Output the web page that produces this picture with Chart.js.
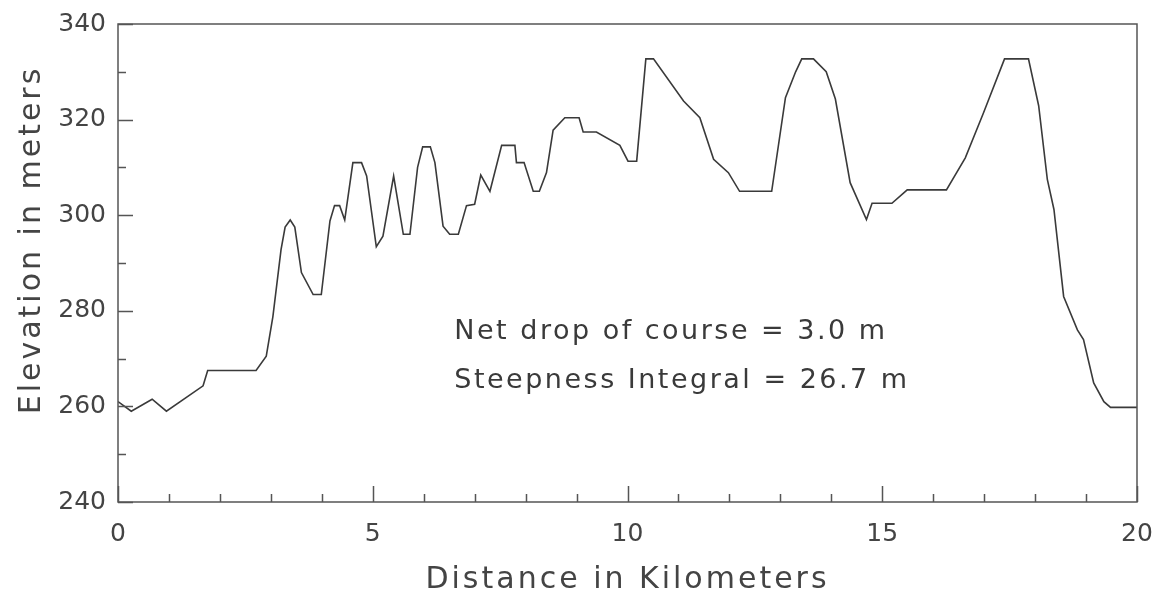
<!DOCTYPE html>
<html>
<head>
<meta charset="utf-8">
<script src="https://cdn.jsdelivr.net/npm/chart.js@4"></script>
<style>
  html, body { margin: 0; padding: 0; background: #fff; }
  #wrap { width: 1156px; height: 590px; }
</style>
</head>
<body>
<div id="wrap"><canvas id="profileChart" width="1156" height="590"></canvas></div>
<script>
// course profile
const distKm = [0, 0.26, 0.67, 0.95, 1.67, 1.76, 2.71, 2.91, 3.04, 3.2, 3.28, 3.38, 3.47, 3.6, 3.83, 3.99,
  4.16, 4.25, 4.35, 4.45, 4.61, 4.78, 4.88, 5.07, 5.2, 5.41, 5.6, 5.73, 5.88, 5.98, 6.13, 6.22, 6.38,
  6.51, 6.68, 6.84, 7.0, 7.12, 7.3, 7.53, 7.79, 7.82, 7.97, 8.15, 8.27, 8.41, 8.54, 8.77, 9.05, 9.13,
  9.39, 9.85, 10.01, 10.18, 10.36, 10.51, 11.1, 11.42, 11.69, 11.98, 12.2, 12.83, 13.1, 13.3, 13.42,
  13.65, 13.9, 14.08, 14.37, 14.69, 14.8, 15.19, 15.49, 16.26, 16.63, 16.99, 17.4, 17.87, 18.07,
  18.24, 18.37, 18.56, 18.83, 18.95, 19.15, 19.35, 19.48, 20];
const elevM = [261, 259, 261.5, 259, 264.3, 267.5, 267.5, 270.5, 278.8, 292.8, 297.5, 299, 297.5, 288, 283.4, 283.4,
  298.8, 302, 302, 299, 311, 311, 308.2, 293.4, 295.6, 308.2, 296, 296, 310, 314.3, 314.3, 311, 297.7,
  296, 296, 302, 302.3, 308.4, 305, 314.6, 314.6, 311, 311, 305, 305, 308.9, 317.8, 320.4, 320.4, 317.4,
  317.4, 314.6, 311.3, 311.3, 332.7, 332.7, 323.9, 320.4, 311.7, 308.9, 305, 305, 324.6, 330, 332.7,
  332.7, 330, 324.3, 306.8, 299.1, 302.5, 302.5, 305.3, 305.3, 312, 321.5, 332.7, 332.7, 322.9,
  307.5, 301.2, 283, 276, 274, 264.9, 261, 259.8, 259.8];

const yTicks = [240, 260, 280, 300, 320, 340];
const xTicks = [0, 5, 10, 15, 20];
const xTitle = "Distance in Kilometers";
const yTitle = "Elevation in meters";
const notes = ["Net drop of course = 3.0 m", "Steepness Integral = 26.7 m"];

const ink = "#3a3a3a";
const textInk = "#444";

// frame, inward tick marks, axis titles and the two text lines
const plotDecor = {
  id: "plotDecor",
  afterDraw(chart) {
    const { ctx, chartArea: a, scales } = chart;
    const x = scales.x, y = scales.y;
    ctx.save();
    ctx.strokeStyle = "#555";
    ctx.lineWidth = 1.5;
    ctx.strokeRect(a.left, a.top, a.right - a.left, a.bottom - a.top);
    ctx.beginPath();
    for (let v = 240; v <= 340; v += 10) {
      const py = Math.round(y.getPixelForValue(v)) + 0.5;
      const len = v % 20 === 0 ? 15 : 8;
      ctx.moveTo(a.left, py);
      ctx.lineTo(a.left + len, py);
    }
    for (let v = 0; v <= 20; v += 1) {
      const px = Math.round(x.getPixelForValue(v)) + 0.5;
      const len = v % 5 === 0 ? 16 : 8;
      ctx.moveTo(px, a.bottom);
      ctx.lineTo(px, a.bottom - len);
    }
    ctx.stroke();

    ctx.fillStyle = textInk;
    ctx.textBaseline = "alphabetic";

    // axis titles
    ctx.font = "30px 'DejaVu Sans'";
    ctx.letterSpacing = "3px";
    ctx.textAlign = "center";
    ctx.fillText(xTitle, (a.left + a.right) / 2, 588);
    ctx.save();
    ctx.translate(40, 240);
    ctx.rotate(-Math.PI / 2);
    ctx.fillText(yTitle, 0, 0);
    ctx.restore();

    // notes inside the plot
    ctx.font = "27px 'DejaVu Sans'";
    ctx.letterSpacing = "2.5px";
    ctx.textAlign = "left";
    ctx.fillStyle = ink;
    ctx.fillText(notes[0], x.getPixelForValue(6.6), y.getPixelForValue(274));
    ctx.fillText(notes[1], x.getPixelForValue(6.6), y.getPixelForValue(263.9));
    ctx.restore();
  }
};

const ctx = document.getElementById("profileChart").getContext("2d");
new Chart(ctx, {
  type: "line",
  data: {
    datasets: [{
      data: distKm.map((d, i) => ({ x: d, y: elevM[i] })),
      borderColor: ink,
      borderWidth: 1.6,
      pointRadius: 0,
      tension: 0,
      fill: false
    }]
  },
  options: {
    responsive: false,
    animation: false,
    layout: { padding: { top: 24, right: 19, left: 0, bottom: 0 } },
    plugins: { legend: { display: false }, tooltip: { enabled: false } },
    scales: {
      x: {
        type: "linear",
        min: 0, max: 20,
        afterBuildTicks: s => { s.ticks = xTicks.map(v => ({ value: v })); },
        afterFit: s => { s.height = 88; s.paddingLeft = 0; s.paddingRight = 0; },
        grid: { display: false, drawTicks: false },
        border: { display: false },
        ticks: { color: textInk, font: { family: "DejaVu Sans", size: 25 }, padding: 17, maxRotation: 0 }
      },
      y: {
        min: 240, max: 340,
        afterBuildTicks: s => { s.ticks = yTicks.map(v => ({ value: v })); },
        afterFit: s => { s.width = 118; s.paddingTop = 0; s.paddingBottom = 0; },
        grid: { display: false, drawTicks: false },
        border: { display: false },
        ticks: { color: textInk, font: { family: "DejaVu Sans", size: 25 }, padding: 12 }
      }
    }
  },
  plugins: [plotDecor]
});
</script>
</body>
</html>
